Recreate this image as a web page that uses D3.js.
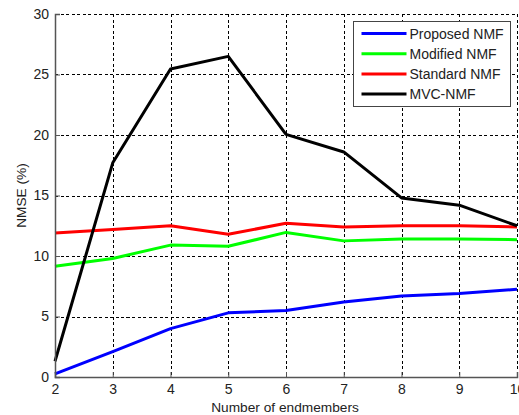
<!DOCTYPE html>
<html>
<head>
<meta charset="utf-8">
<script src="https://cdn.jsdelivr.net/npm/d3@7"></script>
<style>
  body { margin: 0; background: white; }
  svg { display: block; font-family: "Liberation Sans", Arial, sans-serif; }
</style>
</head>
<body>
<div id="chart"></div>
<script>
// number of endmembers
const endmembers = [2, 3, 4, 5, 6, 7, 8, 9, 10];

// NMSE (%) per method
const proposed_nmf = [0.25, 2.1, 4.0, 5.3, 5.5, 6.2, 6.7, 6.9, 7.25];
const modified_nmf = [9.15, 9.8, 10.9, 10.8, 11.95, 11.25, 11.4, 11.4, 11.35];
const standard_nmf = [11.9, 12.2, 12.5, 11.8, 12.7, 12.4, 12.5, 12.5, 12.4];
const mvc_nmf      = [1.3, 17.7, 25.45, 26.5, 20.05, 18.6, 14.8, 14.2, 12.5];

const series_names = ["Proposed NMF", "Modified NMF", "Standard NMF", "MVC-NMF"];
const series_values = [proposed_nmf, modified_nmf, standard_nmf, mvc_nmf];
const series_colors = ["#0000ff", "#00ff00", "#ff0000", "#000000"];

const x_ticks = [2, 3, 4, 5, 6, 7, 8, 9, 10];
const y_ticks = [0, 5, 10, 15, 20, 25, 30];

const width = 519, height = 415;
const margin = {top: 14, right: 2, bottom: 38, left: 55};

const svg = d3.select("#chart")
  .append("svg")
  .attr("width", width)
  .attr("height", height)
;

svg.append("rect")
  .attr("width", "100%")
  .attr("height", "100%")
  .attr("fill", "white")
;

const x = d3.scaleLinear()
  .domain([2, 10])
  .range([margin.left, width - margin.right])
;

const y = d3.scaleLinear()
  .domain([0, 30])
  .range([height - margin.bottom, margin.top])
;

// dashed grid
const grid = svg.append("g")
  .attr("stroke", "#000")
  .attr("stroke-width", 1)
  .attr("stroke-dasharray", "3,2.5")
  .attr("shape-rendering", "crispEdges")
;

grid.selectAll(".vgrid")
  .data(x_ticks.slice(1))
  .enter()
  .append("line")
  .attr("x1", d => Math.round(x(d)) + 0.5)
  .attr("x2", d => Math.round(x(d)) + 0.5)
  .attr("y1", y(30))
  .attr("y2", y(0))
;

grid.selectAll(".hgrid")
  .data(y_ticks.slice(1))
  .enter()
  .append("line")
  .attr("x1", x(2))
  .attr("x2", x(10))
  .attr("y1", d => Math.round(y(d)) + 0.5)
  .attr("y2", d => Math.round(y(d)) + 0.5)
;

// series lines
const line = d3.line()
  .x((d, i) => x(endmembers[i]))
  .y(d => y(d))
;

svg.append("g")
  .selectAll("path")
  .data(series_values)
  .enter()
  .append("path")
  .attr("fill", "none")
  .attr("stroke", (d, i) => series_colors[i])
  .attr("stroke-width", 3)
  .attr("stroke-linejoin", "round")
  .attr("d", line)
;

// axes
const x_axis = svg.append("g")
  .attr("transform", "translate(0," + y(0) + ")")
  .call(d3.axisBottom(x)
    .tickValues(x_ticks)
    .tickSize(-5)
    .tickPadding(7)
    .tickFormat(d3.format("d")))
;

const y_axis = svg.append("g")
  .attr("transform", "translate(" + x(2) + ",0)")
  .call(d3.axisLeft(y)
    .tickValues(y_ticks)
    .tickSize(-5)
    .tickPadding(6)
    .tickFormat(d3.format("d")))
;

[x_axis, y_axis].forEach(g => {
  g.select(".domain").attr("stroke", "#555").attr("stroke-width", 1.5);
  g.selectAll(".tick line").attr("stroke", "#555");
  g.selectAll(".tick text")
    .attr("fill", "#222")
    .style("font-size", "14px")
    .style("font-family", "'Liberation Sans', Arial, sans-serif");
});

// axis labels
svg.append("text")
  .attr("x", 285)
  .attr("y", 412)
  .attr("text-anchor", "middle")
  .attr("fill", "#222")
  .style("font-size", "13.7px")
  .text("Number of endmembers")
;

svg.append("text")
  .attr("transform", "translate(26," + ((y(0) + y(30)) / 2) + ") rotate(-90)")
  .attr("text-anchor", "middle")
  .attr("fill", "#222")
  .style("font-size", "13.7px")
  .text("NMSE (%)")
;

// legend
const legend = svg.append("g")
  .attr("transform", "translate(353.5,21.5)")
;

legend.append("rect")
  .attr("width", 157)
  .attr("height", 85)
  .attr("fill", "white")
  .attr("stroke", "#444")
  .attr("stroke-width", 1)
;

const rows = legend.selectAll(".row")
  .data(series_names)
  .enter()
  .append("g")
  .attr("transform", (d, i) => "translate(0," + (12 + i * 20.2) + ")")
;

rows.append("line")
  .attr("x1", 8)
  .attr("x2", 53)
  .attr("stroke", (d, i) => series_colors[i])
  .attr("stroke-width", 3)
;

rows.append("text")
  .attr("x", 56)
  .attr("y", 5)
  .attr("fill", "#222")
  .style("font-size", "14px")
  .text(d => d)
;
</script>
</body>
</html>
